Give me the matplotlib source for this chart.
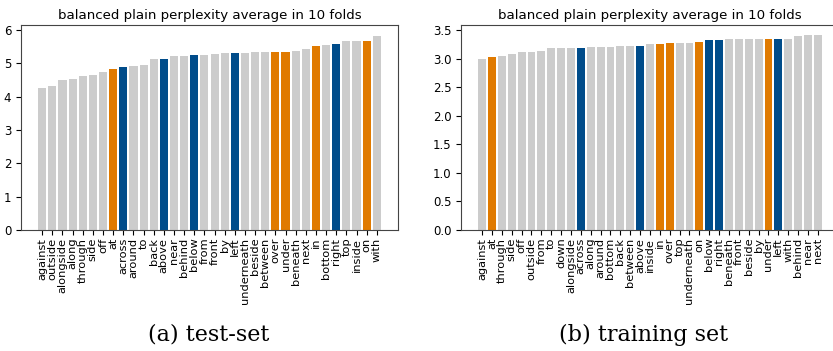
import matplotlib
matplotlib.use('Agg')
import matplotlib.pyplot as plt

# test-set (a)
test_words = ['against', 'outside', 'alongside', 'along', 'through', 'side', 'off', 'at',
              'across', 'around', 'to', 'back', 'above', 'near', 'behind', 'below', 'from',
              'front', 'by', 'left', 'underneath', 'beside', 'between', 'over', 'under',
              'beneath', 'next', 'in', 'bottom', 'right', 'top', 'inside', 'on', 'with']
test_vals = [4.26, 4.32, 4.50, 4.53, 4.62, 4.65, 4.75, 4.83,
             4.89, 4.92, 4.95, 5.13, 5.13, 5.22, 5.22, 5.25, 5.25,
             5.28, 5.31, 5.31, 5.31, 5.34, 5.34, 5.34, 5.34,
             5.37, 5.43, 5.52, 5.55, 5.58, 5.67, 5.67, 5.67, 5.82]

# training set (b)
train_words = ['against', 'at', 'through', 'side', 'off', 'outside', 'from', 'to', 'down',
               'alongside', 'across', 'along', 'around', 'bottom', 'back', 'between', 'above',
               'inside', 'in', 'over', 'top', 'underneath', 'on', 'below', 'right', 'beneath',
               'front', 'beside', 'by', 'under', 'left', 'with', 'behind', 'near', 'next']
train_vals = [3.00, 3.035, 3.05, 3.09, 3.11, 3.12, 3.14, 3.18, 3.18,
              3.19, 3.19, 3.21, 3.21, 3.21, 3.23, 3.23, 3.23,
              3.25, 3.26, 3.28, 3.28, 3.28, 3.30, 3.32, 3.32, 3.34,
              3.34, 3.34, 3.35, 3.35, 3.35, 3.35, 3.39, 3.41, 3.42]

orange_words = ['at', 'over', 'under', 'in', 'on']
blue_words = ['across', 'above', 'below', 'left', 'right']

GRAY = '#cccccc'
ORANGE = '#e07a00'
BLUE = '#004c8a'


def color_of(w):
    if w in orange_words:
        return ORANGE
    if w in blue_words:
        return BLUE
    return GRAY


fig = plt.figure(figsize=(8.33, 3.51), dpi=100)
ax1 = fig.add_axes([0.0252, 0.3447, 0.4526, 0.584])
ax2 = fig.add_axes([0.5534, 0.3447, 0.4538, 0.584])

for ax, words, vals in [(ax1, test_words, test_vals), (ax2, train_words, train_vals)]:
    x = range(len(words))
    ax.bar(x, vals, width=0.8, color=[color_of(w) for w in words])
    ax.set_xticks(list(x))
    ax.set_xticklabels(words, rotation=90, fontsize=8.2, linespacing=1.0)
    ax.tick_params(axis='y', labelsize=8.5)
    ax.tick_params(axis='x', pad=2)
    ax.set_title('balanced plain perplexity average in 10 folds', fontsize=9.6, pad=4)
    for s in ax.spines.values():
        s.set_color('#444444')

ax1.set_ylim(0, 6.15)
ax1.set_yticks([0, 1, 2, 3, 4, 5, 6])
ax2.set_ylim(0, 3.59)
ax2.set_yticks([0.0, 0.5, 1.0, 1.5, 2.0, 2.5, 3.0, 3.5])

fig.text(0.251, 0.046, '(a) test-set', ha='center', va='center',
         fontsize=16, family='DejaVu Serif')
fig.text(0.773, 0.046, '(b) training set', ha='center', va='center',
         fontsize=16, family='DejaVu Serif')

fig.savefig('out.png', dpi=100)
